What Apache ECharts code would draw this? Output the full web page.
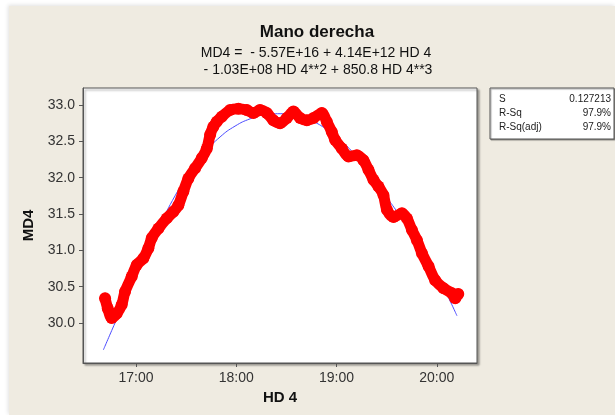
<!DOCTYPE html>
<html><head><meta charset="utf-8">
<script src="https://cdn.jsdelivr.net/npm/echarts@6/dist/echarts.min.js"></script>
<style>
html,body{margin:0;padding:0;background:#fff;overflow:hidden;}
#panel{position:absolute;left:9px;top:6px;width:606px;height:409px;background:#EFEBE1;box-shadow:-1px -1px 4px rgba(0,0,0,0.12);}
#chart{position:absolute;left:0;top:0;width:615px;height:415px;}
</style></head><body>
<div id="panel"></div><div id="chart"></div>
<script>
// ---- data ----
const titleText = 'Mano derecha';
const equationLines = ['MD4 =  - 5.57E+16 + 4.14E+12 HD 4', '- 1.03E+08 HD 4**2 + 850.8 HD 4**3'];
const statLabels = ['S', 'R-Sq', 'R-Sq(adj)'];
const statValues = ['0.127213', '97.9%', '97.9%'];
const xTicks = [17, 18, 19, 20];
const yTicks = [30.0, 30.5, 31.0, 31.5, 32.0, 32.5, 33.0];
const xName = 'HD 4';
const yName = 'MD4';
// observed (hours of day, decimal)
const observedTime = [16.691,16.718,16.757,16.807,16.857,16.890,16.957,17.007,17.073,17.123,17.157,17.223,17.306,17.372,17.422,17.472,17.522,17.589,17.656,17.706,17.739,17.771,17.805,17.855,17.938,18.021,18.105,18.171,18.236,18.304,18.370,18.437,18.504,18.570,18.637,18.704,18.770,18.853,18.903,18.953,18.986,19.053,19.119,19.203,19.268,19.318,19.368,19.418,19.468,19.502,19.568,19.652,19.702,19.752,19.802,19.852,19.918,19.984,20.067,20.151,20.184,20.214];
const observedMD4 = [30.34,30.20,30.07,30.13,30.25,30.43,30.64,30.80,30.89,31.03,31.17,31.30,31.44,31.53,31.62,31.81,31.99,32.13,32.27,32.40,32.59,32.70,32.77,32.84,32.93,32.95,32.93,32.89,32.93,32.89,32.79,32.75,32.82,32.91,32.82,32.79,32.82,32.89,32.77,32.63,32.52,32.40,32.29,32.31,32.24,32.11,31.97,31.88,31.76,31.56,31.46,31.51,31.44,31.28,31.14,30.96,30.78,30.59,30.48,30.41,30.34,30.40];
// fitted cubic curve
const fitTime = [16.674,16.790,16.940,17.090,17.240,17.389,17.539,17.689,17.838,17.988,18.138,18.287,18.437,18.587,18.737,18.886,19.036,19.186,19.335,19.485,19.635,19.784,19.934,20.084,20.201];
const fitMD4 = [29.63,30.00,30.47,30.92,31.35,31.75,32.08,32.35,32.56,32.71,32.81,32.87,32.88,32.86,32.79,32.68,32.52,32.31,32.05,31.76,31.47,31.16,30.83,30.44,30.10];

const FONT = 'Liberation Sans';
function hhmm(v) {
  const h = Math.floor(v + 1e-9);
  const m = Math.round((v - h) * 60);
  return h + ':' + (m < 10 ? '0' + m : m);
}
const chart = echarts.init(document.getElementById('chart'), null, {renderer: 'canvas'});
const statChildren = [{
  type: 'rect', shape: {x: 490, y: 88, width: 124, height: 51},
  style: {fill: '#fff', stroke: '#555', lineWidth: 1, shadowColor: 'rgba(0,0,0,0.35)', shadowOffsetX: 1, shadowOffsetY: 1, shadowBlur: 1}
}];
statLabels.forEach((l, i) => {
  statChildren.push({type: 'text', style: {x: 499, y: 99 + i * 14, text: l, fill: '#222', font: '10px "' + FONT + '"', textVerticalAlign: 'middle'}});
  statChildren.push({type: 'text', style: {x: 611, y: 99 + i * 14, text: statValues[i], fill: '#222', font: '10px "' + FONT + '"', textAlign: 'right', textVerticalAlign: 'middle'}});
});
chart.setOption({
  animation: false,
  backgroundColor: 'transparent',
  grid: {left: 83, top: 88, width: 394, height: 275, show: true, backgroundColor: '#fff', borderColor: '#555', borderWidth: 1,
         shadowColor: 'rgba(0,0,0,0.35)', shadowOffsetX: 2, shadowOffsetY: 2, shadowBlur: 2},
  graphic: [
    {type: 'text', style: {x: 317, y: 32, text: titleText, fill: '#111', font: 'bold 17px "' + FONT + '"', textAlign: 'center', textVerticalAlign: 'middle'}},
    {type: 'text', style: {x: 316, y: 53, text: equationLines[0], fill: '#111', font: '14px "' + FONT + '"', textAlign: 'center', textVerticalAlign: 'middle'}},
    {type: 'text', style: {x: 318, y: 70, text: equationLines[1], fill: '#111', font: '14px "' + FONT + '"', textAlign: 'center', textVerticalAlign: 'middle'}},
    {type: 'group', children: statChildren}
  ],
  xAxis: {
    type: 'value', min: 16.471, max: 20.401,
    name: xName, nameLocation: 'middle', nameGap: 27,
    nameTextStyle: {fontFamily: FONT, fontSize: 15, fontWeight: 'bold', color: '#111'},
    axisLine: {show: true, lineStyle: {color: '#555'}},
    axisTick: {show: true, length: 4, lineStyle: {color: '#555'}, customValues: xTicks},
    axisLabel: {customValues: xTicks, formatter: hhmm, margin: 8, fontFamily: FONT, fontSize: 14, color: '#333'},
    splitLine: {show: false}
  },
  yAxis: {
    type: 'value', min: 29.45, max: 33.234,
    name: yName, nameLocation: 'middle', nameGap: 45,
    nameTextStyle: {fontFamily: FONT, fontSize: 15, fontWeight: 'bold', color: '#111'},
    axisLine: {show: true, lineStyle: {color: '#555'}},
    axisTick: {show: true, length: 4, lineStyle: {color: '#555'}, customValues: yTicks},
    axisLabel: {customValues: yTicks, formatter: v => v.toFixed(1), margin: 8, fontFamily: FONT, fontSize: 14, color: '#333'},
    splitLine: {show: false}
  },
  series: [
    {type: 'line', data: fitTime.map((t, i) => [t, fitMD4[i]]), smooth: true, showSymbol: false,
     lineStyle: {color: '#4a4aff', width: 1}, z: 2},
    {type: 'line', data: observedTime.map((t, i) => [t, observedMD4[i]]), smooth: 0.3,
     symbol: 'circle', symbolSize: 12, showAllSymbol: true, itemStyle: {color: '#ff0000'},
     lineStyle: {color: '#ff0000', width: 11, cap: 'round', join: 'round'}, z: 3}
  ]
});
</script>
</body></html>
